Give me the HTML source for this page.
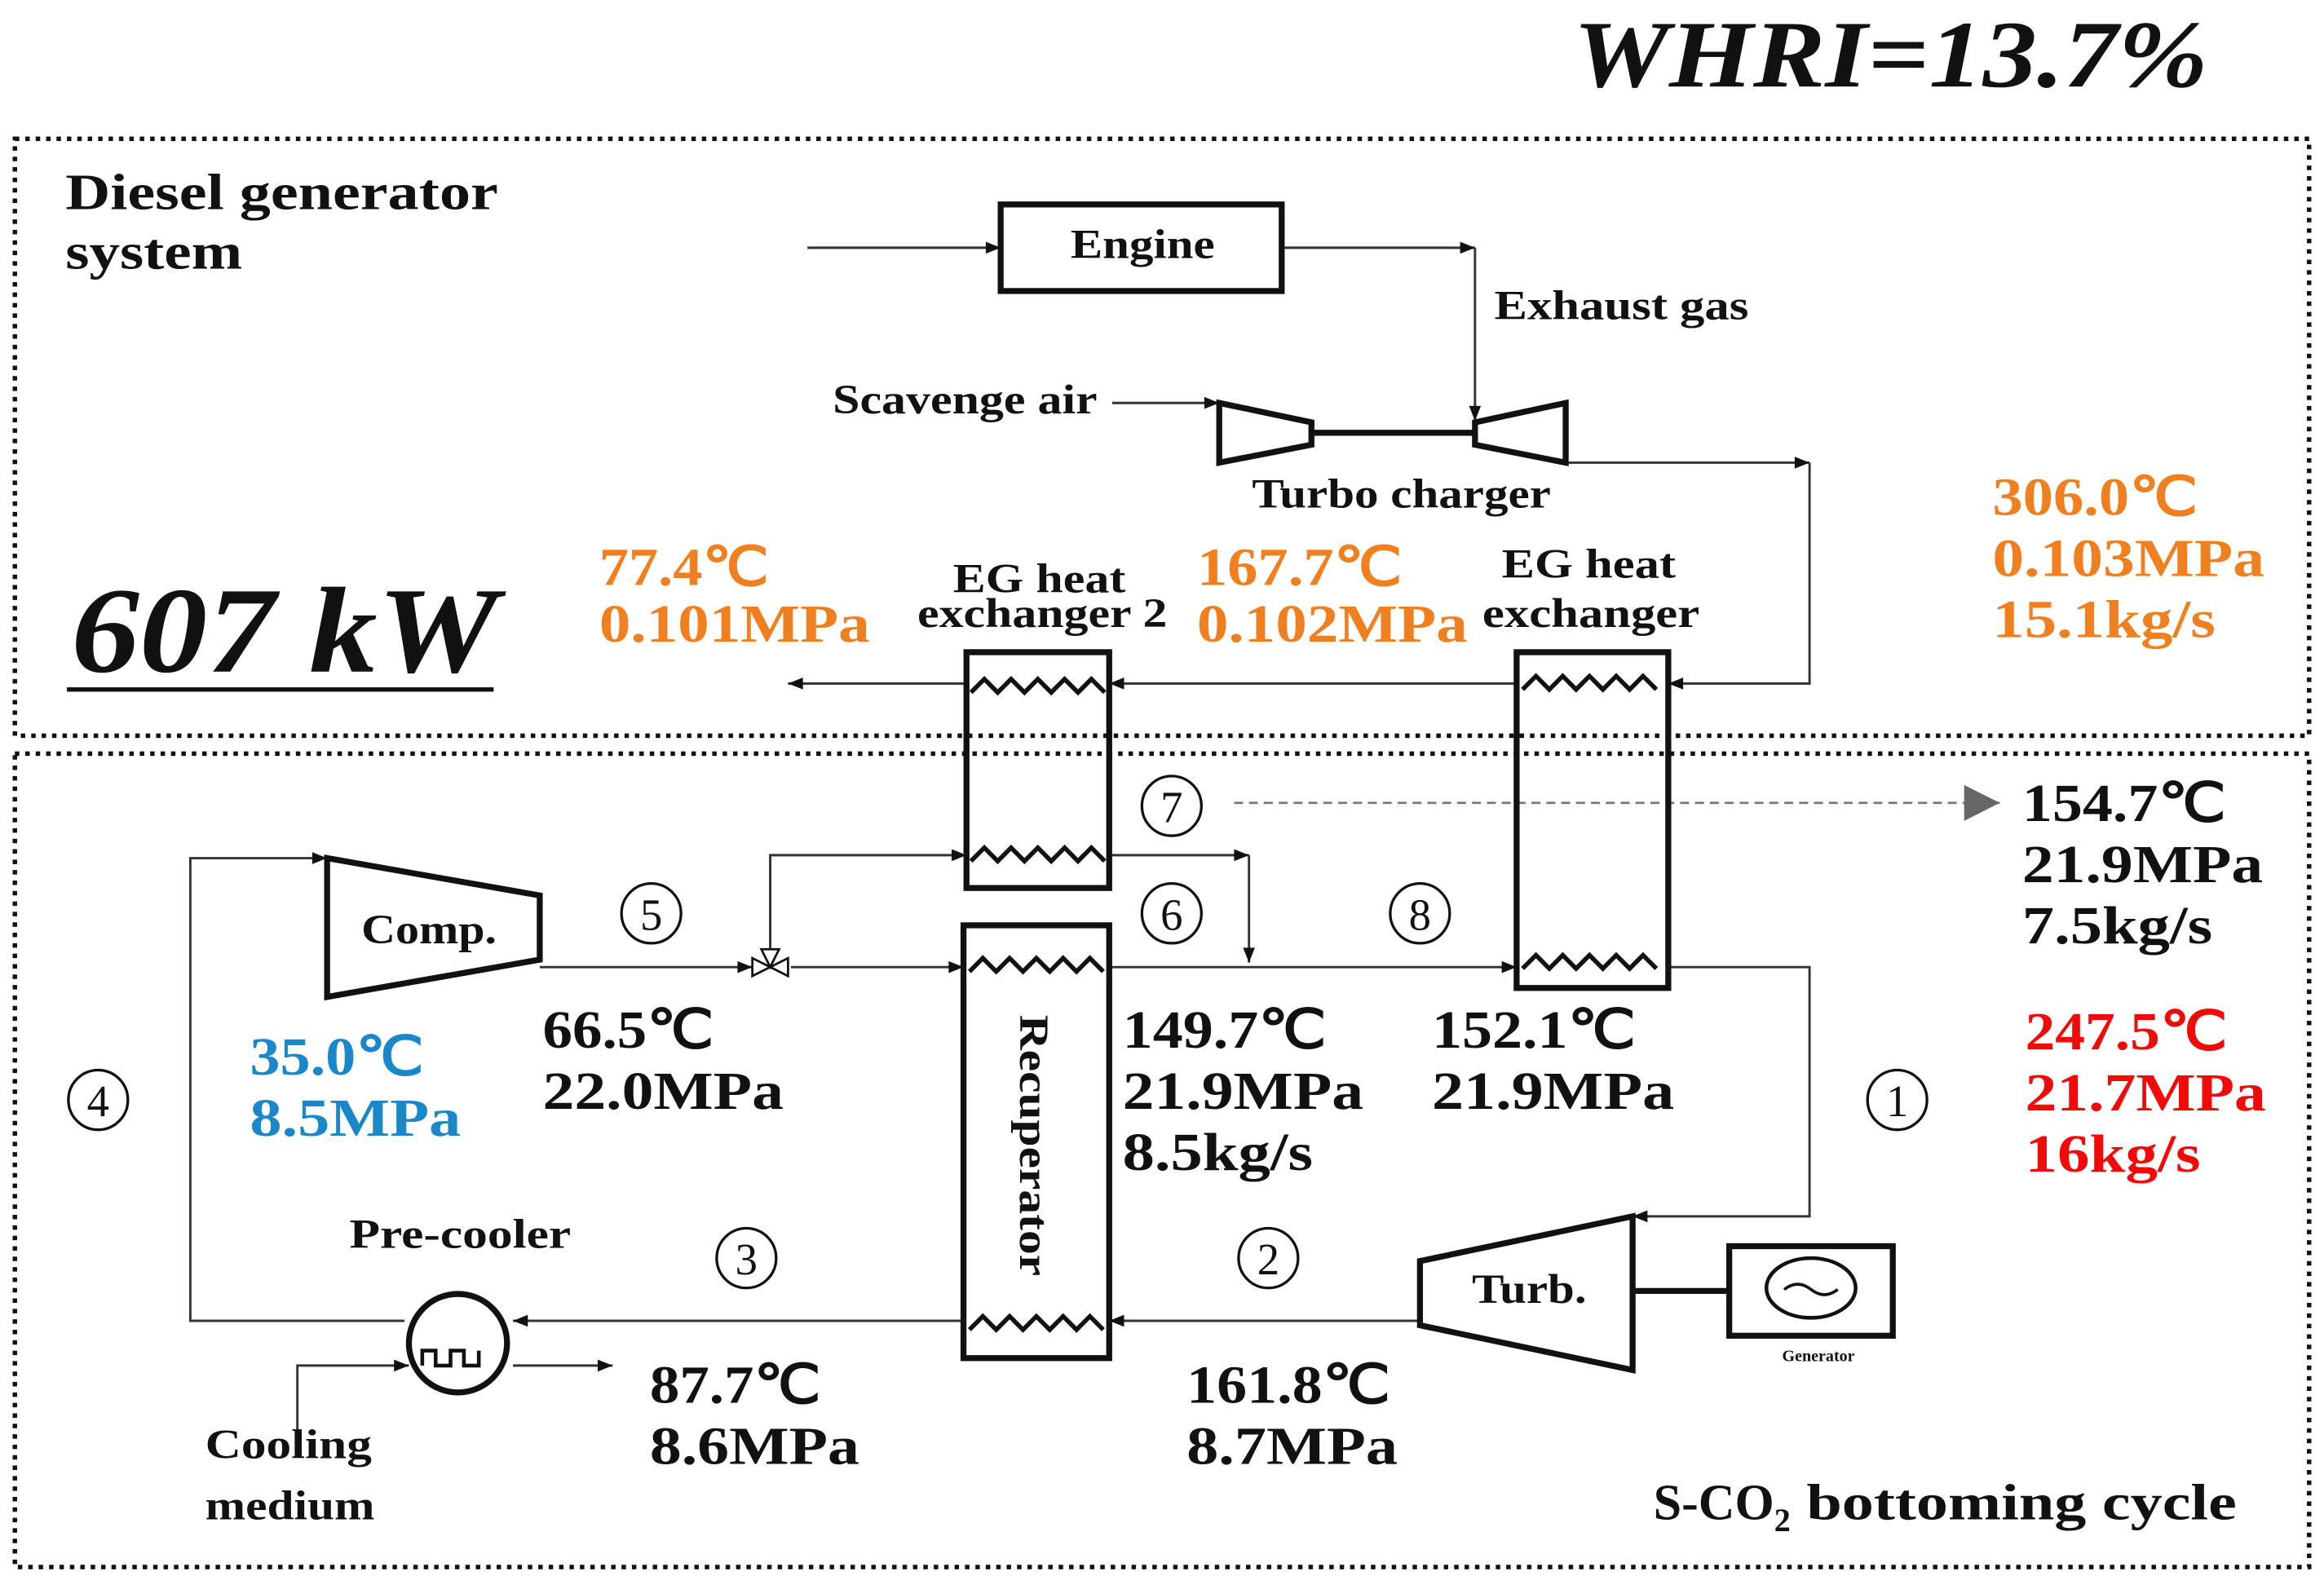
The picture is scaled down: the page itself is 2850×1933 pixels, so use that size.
<!DOCTYPE html>
<html><head><meta charset="utf-8"><style>
html,body{margin:0;padding:0;background:#fff;}
svg{display:block;}
text{font-family:"Liberation Serif",serif;font-weight:bold;fill:#111;}
.o{fill:#f07f1f;} .b{fill:#1a87c9;} .r{fill:#f00a0a;}
.d{font-size:36px;}
.l{font-size:28px;}
.n{font-size:30px;font-weight:normal;}
</style></head><body>
<svg width="2850" height="1933" viewBox="0 0 1563 1056" preserveAspectRatio="none" xmlns="http://www.w3.org/2000/svg">
<defs>
<marker id="a" viewBox="0 0 10 10" refX="10" refY="5" markerWidth="14" markerHeight="10" markerUnits="userSpaceOnUse" orient="auto"><path d="M0,1 L10,5 L0,9 z" fill="#111"/></marker>
<marker id="g" viewBox="0 0 10 10" refX="10" refY="5" markerWidth="40" markerHeight="24" markerUnits="userSpaceOnUse" orient="auto"><path d="M0,0 L10,5 L0,10 z" fill="#666"/></marker>
</defs>
<text x="1058" y="58" font-size="64" font-style="italic" textLength="427" lengthAdjust="spacingAndGlyphs">WHRI=13.7%</text>
<rect x="10" y="93" width="1543" height="400" fill="none" stroke="#111" stroke-width="3" stroke-dasharray="3,4"/>
<rect x="10" y="505" width="1543" height="545" fill="none" stroke="#111" stroke-width="3" stroke-dasharray="3,4"/>
<text x="44" y="140" font-size="34" textLength="291" lengthAdjust="spacingAndGlyphs">Diesel generator</text>
<text x="44" y="180" font-size="34" textLength="119" lengthAdjust="spacingAndGlyphs">system</text>
<text x="48" y="450" font-size="82" font-style="italic" textLength="287" lengthAdjust="spacingAndGlyphs">607 kW</text>
<line x1="45" y1="462" x2="332" y2="462" stroke="#111" stroke-width="3"/>
<g stroke="#333" stroke-width="1.6" fill="none">
<line x1="543" y1="166" x2="673" y2="166" marker-end="url(#a)"/>
<polyline points="862,166 992,166" marker-end="url(#a)"/>
<polyline points="992,166 992,282" marker-end="url(#a)"/>
<line x1="748" y1="270" x2="820" y2="270" marker-end="url(#a)"/>
<polyline points="1053,310 1217,310" marker-end="url(#a)"/>
<polyline points="1217,310 1217,458 1122,458" marker-end="url(#a)"/>
<line x1="1020" y1="458" x2="746" y2="458" marker-end="url(#a)"/>
<line x1="650" y1="458" x2="530" y2="458" marker-end="url(#a)"/>
<line x1="363" y1="648" x2="506" y2="648" marker-end="url(#a)"/>
<line x1="532" y1="648" x2="648" y2="648" marker-end="url(#a)"/>
<line x1="746" y1="648" x2="1020" y2="648" marker-end="url(#a)"/>
<polyline points="1122,648 1217,648 1217,815 1098,815" marker-end="url(#a)"/>
<polyline points="518,640 518,573 650,573" marker-end="url(#a)"/>
<polyline points="746,573 840,573" marker-end="url(#a)"/>
<polyline points="840,573 840,645" marker-end="url(#a)"/>
<line x1="955" y1="885" x2="746" y2="885" marker-end="url(#a)"/>
<line x1="648" y1="885" x2="345" y2="885" marker-end="url(#a)"/>
<polyline points="272,885 128,885 128,575 220,575" marker-end="url(#a)"/>
<polyline points="200,965 200,915 275,915" marker-end="url(#a)"/>
<line x1="345" y1="915" x2="412" y2="915" marker-end="url(#a)"/>
</g>
<line x1="830" y1="538" x2="1345" y2="538" stroke="#777" stroke-width="1.5" stroke-dasharray="6,4" marker-end="url(#g)"/>
<g stroke="#111" stroke-width="4" fill="none">
<rect x="673" y="137" width="189" height="58"/>
<polygon points="820,270 882,283 882,298 820,310"/>
<line x1="882" y1="290" x2="992" y2="290"/>
<polygon points="992,283 1053,270 1053,310 992,298"/>
<rect x="1020" y="437" width="102" height="225"/>
<rect x="650" y="437" width="96" height="158"/>
<rect x="648" y="620" width="98" height="290"/>
<polygon points="220,575 363,600 363,643 220,668"/>
<polygon points="955,845 1098,815 1098,918 955,888"/>
<line x1="1098" y1="865" x2="1163" y2="865"/>
<rect x="1163" y="835" width="110" height="60"/>
</g>
<g stroke="#111" stroke-width="3" fill="none">
<path d="M1024,462 l9,-9 l9,9 l9,-9 l9,9 l9,-9 l9,9 l9,-9 l9,9 l9,-9 l9,9"/>
<path d="M1024,649 l9,-9 l9,9 l9,-9 l9,9 l9,-9 l9,9 l9,-9 l9,9 l9,-9 l9,9"/>
<path d="M653,464 l9,-9 l9,9 l9,-9 l9,9 l9,-9 l9,9 l9,-9 l9,9 l9,-9 l9,9"/>
<path d="M653,577 l9,-9 l9,9 l9,-9 l9,9 l9,-9 l9,9 l9,-9 l9,9 l9,-9 l9,9"/>
<path d="M652,651 l9,-9 l9,9 l9,-9 l9,9 l9,-9 l9,9 l9,-9 l9,9 l9,-9 l9,9"/>
<path d="M652,891 l9,-9 l9,9 l9,-9 l9,9 l9,-9 l9,9 l9,-9 l9,9 l9,-9 l9,9"/>
<circle cx="308" cy="900" r="33" stroke-width="4"/>
<path d="M284,915 v-10 h9 v10 h10 v-10 h9 v10 h10 v-10" stroke-width="2.5"/>
<ellipse cx="1218" cy="863" rx="30" ry="20" stroke-width="2.5"/>
<path d="M1200,864 q9,-7 18,0 t18,0" stroke-width="2"/>
</g>
<path d="M506,642 l12,6 l-12,6 z M530,642 l-12,6 l12,6 z M512,636 l6,12 l6,-12 z" fill="#fff" stroke="#111" stroke-width="1.5"/>
<text x="720" y="173" class="l" textLength="97" lengthAdjust="spacingAndGlyphs">Engine</text>
<text x="1005" y="214" class="l" textLength="171" lengthAdjust="spacingAndGlyphs">Exhaust gas</text>
<text x="560" y="277" class="l" textLength="178" lengthAdjust="spacingAndGlyphs">Scavenge air</text>
<text x="842" y="340" class="l" textLength="201" lengthAdjust="spacingAndGlyphs">Turbo charger</text>
<text x="641" y="397" class="l" textLength="116" lengthAdjust="spacingAndGlyphs">EG heat</text>
<text x="617" y="420" class="l" textLength="168" lengthAdjust="spacingAndGlyphs">exchanger 2</text>
<text x="1010" y="387" class="l" textLength="117" lengthAdjust="spacingAndGlyphs">EG heat</text>
<text x="997" y="420" class="l" textLength="146" lengthAdjust="spacingAndGlyphs">exchanger</text>
<text x="243" y="632" class="l" textLength="91" lengthAdjust="spacingAndGlyphs">Comp.</text>
<text x="990" y="873" class="l" textLength="77" lengthAdjust="spacingAndGlyphs">Turb.</text>
<text x="1223" y="912" font-size="11" text-anchor="middle" fill="#444">Generator</text>
<text x="235" y="836" class="l" textLength="149" lengthAdjust="spacingAndGlyphs">Pre-cooler</text>
<text x="138" y="977" class="l" textLength="112" lengthAdjust="spacingAndGlyphs">Cooling</text>
<text x="138" y="1018" class="l" textLength="114" lengthAdjust="spacingAndGlyphs">medium</text>
<text transform="translate(686,680) rotate(90)" class="l" textLength="175" lengthAdjust="spacingAndGlyphs">Recuperator</text>
<text x="1112" y="1018" font-size="34">S-CO<tspan font-size="22" dy="8">2</tspan><tspan dy="-8" textLength="300" lengthAdjust="spacingAndGlyphs"> bottoming cycle</tspan></text>
<g font-size="36">
<text x="403" y="392" class="o" textLength="114" lengthAdjust="spacingAndGlyphs">77.4℃</text><text x="403" y="430" class="o" textLength="182" lengthAdjust="spacingAndGlyphs">0.101MPa</text>
<text x="805" y="392" class="o" textLength="138" lengthAdjust="spacingAndGlyphs">167.7℃</text><text x="805" y="430" class="o" textLength="182" lengthAdjust="spacingAndGlyphs">0.102MPa</text>
<text x="1340" y="345" class="o" textLength="138" lengthAdjust="spacingAndGlyphs">306.0℃</text><text x="1340" y="386" class="o" textLength="183" lengthAdjust="spacingAndGlyphs">0.103MPa</text><text x="1340" y="427" class="o" textLength="150" lengthAdjust="spacingAndGlyphs">15.1kg/s</text>
<text x="1360" y="550" textLength="137" lengthAdjust="spacingAndGlyphs">154.7℃</text><text x="1360" y="591" textLength="162" lengthAdjust="spacingAndGlyphs">21.9MPa</text><text x="1360" y="632" textLength="128" lengthAdjust="spacingAndGlyphs">7.5kg/s</text>
<text x="1362" y="703" class="r" textLength="136" lengthAdjust="spacingAndGlyphs">247.5℃</text><text x="1362" y="744" class="r" textLength="162" lengthAdjust="spacingAndGlyphs">21.7MPa</text><text x="1362" y="785" class="r" textLength="118" lengthAdjust="spacingAndGlyphs">16kg/s</text>
<text x="168" y="720" class="b" textLength="117" lengthAdjust="spacingAndGlyphs">35.0℃</text><text x="168" y="761" class="b" textLength="142" lengthAdjust="spacingAndGlyphs">8.5MPa</text>
<text x="365" y="702" textLength="115" lengthAdjust="spacingAndGlyphs">66.5℃</text><text x="365" y="743" textLength="162" lengthAdjust="spacingAndGlyphs">22.0MPa</text>
<text x="755" y="702" textLength="137" lengthAdjust="spacingAndGlyphs">149.7℃</text><text x="755" y="743" textLength="162" lengthAdjust="spacingAndGlyphs">21.9MPa</text><text x="755" y="784" textLength="128" lengthAdjust="spacingAndGlyphs">8.5kg/s</text>
<text x="963" y="702" textLength="137" lengthAdjust="spacingAndGlyphs">152.1℃</text><text x="963" y="743" textLength="163" lengthAdjust="spacingAndGlyphs">21.9MPa</text>
<text x="437" y="940" textLength="115" lengthAdjust="spacingAndGlyphs">87.7℃</text><text x="437" y="981" textLength="141" lengthAdjust="spacingAndGlyphs">8.6MPa</text>
<text x="798" y="940" textLength="137" lengthAdjust="spacingAndGlyphs">161.8℃</text><text x="798" y="981" textLength="142" lengthAdjust="spacingAndGlyphs">8.7MPa</text>
</g>
<g fill="none" stroke="#111" stroke-width="1.8">
<circle cx="788" cy="540" r="20"/><circle cx="438" cy="612" r="20"/><circle cx="788" cy="612" r="20"/><circle cx="955" cy="612" r="20"/>
<circle cx="66" cy="737" r="20"/><circle cx="1276" cy="737" r="20"/><circle cx="502" cy="843" r="20"/><circle cx="853" cy="843" r="20"/>
</g>
<g text-anchor="middle">
<text x="788" y="551" class="n">7</text><text x="438" y="623" class="n">5</text><text x="788" y="623" class="n">6</text><text x="955" y="623" class="n">8</text>
<text x="66" y="748" class="n">4</text><text x="1276" y="748" class="n">1</text><text x="502" y="854" class="n">3</text><text x="853" y="854" class="n">2</text>
</g>
</svg>
</body></html>
